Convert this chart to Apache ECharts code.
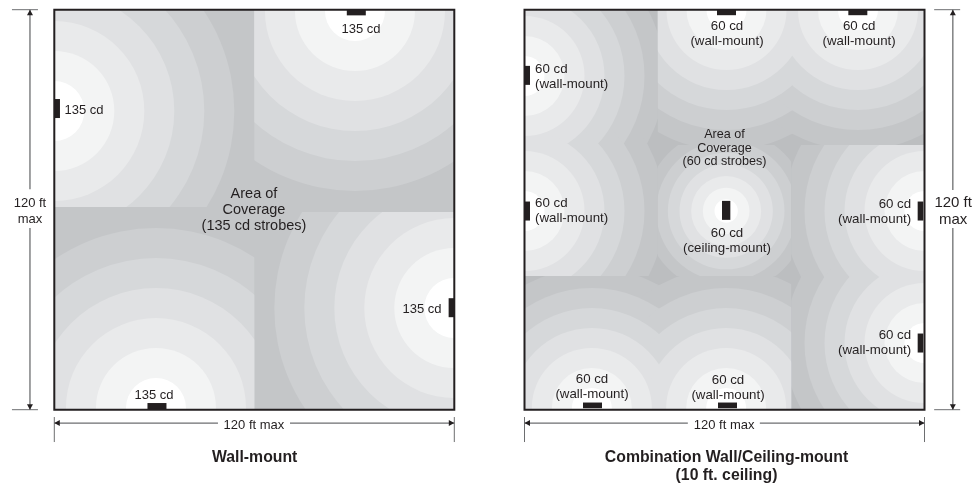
<!DOCTYPE html>
<html>
<head>
<meta charset="utf-8">
<style>html,body{margin:0;padding:0;background:#fff}#c{width:979px;height:487px}</style>
<script src="https://cdn.jsdelivr.net/npm/echarts@6/dist/echarts.min.js"></script>
</head>
<body>
<div id="c"></div>
<script>
// all values in feet, on a 120 x 120 ft room
const shades = ['#ffffff','#f3f4f4','#e9eaeb','#e0e1e3','#d6d8da','#cdcfd1','#c4c6c8'];
const wallRadii135 = [9,18,27,36,45,54];
const wallRadii60 = [6,12,18,24,30,36,42];
const ceilingRadii60 = [3.5,7,10.5,14,17.5,21,24.5];

// zones: [xMin, xMax, yMin, yMax], radii, strobe centres
const zonesLeft = [
  {box:[0,60,60.8,120], radii:wallRadii135, centers:[[0,89.6]]},
  {box:[60,120,59.3,120], radii:wallRadii135, centers:[[90.2,119.6]]},
  {box:[0,60,0,60.8], radii:wallRadii135, centers:[[30.5,0.5]]},
  {box:[60,120,0,59.3], radii:wallRadii135, centers:[[120,30.5]]}
];
const zonesRight = [
  {box:[0,40,40.1,120], radii:wallRadii60, centers:[[0,100.1],[0,59.6]]},
  {box:[40,120,79.4,120], radii:wallRadii60, centers:[[60.6,119.9],[100.05,119.9]]},
  {box:[40,80,40.1,79.4], radii:ceilingRadii60, centers:[[60.5,59.6]]},
  {box:[80,120,0,79.4], radii:wallRadii60, centers:[[120,59.6],[120,20]]},
  {box:[0,80,0,40.1], radii:wallRadii60, centers:[[20.2,0.5],[60.5,0.5]]}
];
// strobes: [x, y, width, height]
const strobesLeft = [[0.85,90.35,1.7,5.7],[90.6,119.15,5.7,1.7],[30.8,1,5.7,2],[119.15,30.6,1.7,5.7]];
const strobesRight = [[0.8,100.3,1.7,5.7],[0.8,59.6,1.7,5.7],[60.6,119.2,5.7,1.7],[100,119.2,5.7,1.7],
  [60.5,59.8,2.5,5.7],[118.8,59.6,1.7,5.7],[118.8,20,1.7,5.7],[20.4,1.3,5.7,1.7],[60.9,1.3,5.7,1.7]];
// labels: [text, x, y, align, fontSize, lineHeight, weight]
const labelsLeft = [
  ['135 cd',8.9,90.2,'center',13,15],['135 cd',92,114.4,'center',13,15],
  ['135 cd',110.3,30.5,'center',13,15],['135 cd',29.9,4.7,'center',13,15],
  ['Area of\nCoverage\n(135 cd strobes)',59.9,60.1,'center',14.5,16],
  ['120 ft\nmax',-7.3,59.9,'center',13,16],['120 ft max',59.9,-4.3,'center',13,15],
  ['Wall-mount',60.1,-14.2,'center',15.8,18,'bold']
];
const labelsRight = [
  ['60 cd\n(wall-mount)',60.75,113.2,'center',13.3,15],['60 cd\n(wall-mount)',100.4,113.2,'center',13.3,15],
  ['60 cd\n(wall-mount)',3.15,100.1,'left',13.3,15],['60 cd\n(wall-mount)',3.15,59.9,'left',13.3,15],
  ['60 cd\n(wall-mount)',116,59.6,'right',13.3,15],['60 cd\n(wall-mount)',116,20.5,'right',13.3,15],
  ['Area of\nCoverage\n(60 cd strobes)',60,78.8,'center',12.6,13.5],
  ['60 cd\n(ceiling-mount)',60.75,51.1,'center',13.3,15],
  ['60 cd\n(wall-mount)',20.25,7.3,'center',13.3,15],['60 cd\n(wall-mount)',61.05,7,'center',13.3,15],
  ['120 ft\nmax',128.6,59.8,'center',15,17],['120 ft max',59.9,-4.3,'center',13,15],
  ['Combination Wall/Ceiling-mount\n(10 ft. ceiling)',60.6,-16.9,'center',15.8,18,'bold']
];
// dimension lines: [x1, y1, x2, y2]; arrow at the first end. ticks have no arrow
const arrowsLeft = [[-7.3,120,-7.3,66.1],[-7.3,0,-7.3,54.5],[0,-4,49.1,-4],[120,-4,70.7,-4]];
const ticksLeft = [[-12.7,120,-4.9,120],[-12.7,0,-4.9,0],[0,-2.2,0,-9.7],[120,-2.2,120,-9.7]];
const arrowsRight = [[128.5,120,128.5,65.9],[128.5,0,128.5,54.5],[0,-4,49,-4],[120,-4,70.6,-4]];
const ticksRight = [[122.9,120,130.7,120],[122.9,0,130.7,0],[0,-2.2,0,-9.7],[120,-2.2,120,-9.7]];

const INK = '#231f20', LINE = '#6d6e70';

function rings(zones){
  const out = [];
  zones.forEach(z=>{
    for(let i=z.radii.length-1;i>=0;i--){
      z.centers.forEach(c=>out.push({c, r:z.radii[i], fill:shades[i], box:z.box}));
    }
  });
  return out;
}
function custom(gridIndex, list, z, draw){
  return {
    type:'custom', coordinateSystem:'cartesian2d', xAxisIndex:gridIndex, yAxisIndex:gridIndex,
    clip:false, silent:true, animation:false, z,
    data:list.map((_,i)=>[i]),
    renderItem:(p,api)=>draw(list[p.dataIndex],api)
  };
}
function panel(g, zones, strobes, labels, arrows, ticks){
  return [
    custom(g, rings(zones), 2, (d,api)=>{
      const c = api.coord(d.c), r = api.size([d.r,0])[0];
      const a = api.coord([d.box[0],d.box[3]]), b = api.coord([d.box[1],d.box[2]]);
      return {type:'circle', shape:{cx:c[0],cy:c[1],r}, style:{fill:d.fill},
        clipPath:{type:'rect', shape:{x:a[0],y:a[1],width:b[0]-a[0],height:b[1]-a[1]}}};
    }),
    custom(g, strobes, 3, (d,api)=>{
      const a = api.coord([d[0]-d[2]/2,d[1]+d[3]/2]), s = api.size([d[2],d[3]]);
      return {type:'rect', shape:{x:a[0],y:a[1],width:s[0],height:s[1]}, style:{fill:INK}};
    }),
    custom(g, [[0,120,120,0]], 4, (d,api)=>{
      const a = api.coord([d[0],d[1]]), b = api.coord([d[2],d[3]]);
      return {type:'rect', shape:{x:a[0],y:a[1],width:b[0]-a[0],height:b[1]-a[1]},
        style:{fill:'none',stroke:INK,lineWidth:2}};
    }),
    custom(g, ticks, 4, (d,api)=>{
      const a = api.coord([d[0],d[1]]), b = api.coord([d[2],d[3]]);
      return {type:'line', shape:{x1:a[0],y1:a[1],x2:b[0],y2:b[1]}, style:{stroke:LINE,lineWidth:1}};
    }),
    custom(g, arrows, 4, (d,api)=>{
      const a = api.coord([d[0],d[1]]), b = api.coord([d[2],d[3]]);
      const L = Math.hypot(b[0]-a[0],b[1]-a[1]), ux=(b[0]-a[0])/L, uy=(b[1]-a[1])/L;
      const h=5.5, w=3;
      return {type:'group', children:[
        {type:'line', shape:{x1:a[0],y1:a[1],x2:b[0],y2:b[1]}, style:{stroke:LINE,lineWidth:1.3}},
        {type:'polygon', shape:{points:[[a[0],a[1]],[a[0]+ux*h-uy*w,a[1]+uy*h+ux*w],[a[0]+ux*h+uy*w,a[1]+uy*h-ux*w]]}, style:{fill:INK}}
      ]};
    }),
    custom(g, labels, 5, (d,api)=>{
      const a = api.coord([d[1],d[2]]);
      return {type:'text', style:{text:d[0], x:a[0], y:a[1]+1, align:d[3], verticalAlign:'middle',
        fill:INK, lineHeight:d[5], fontFamily:'"Liberation Sans", Arial, sans-serif',
        fontSize:d[4], fontWeight:d[6]||'normal'}};
    })
  ];
}
const hidden = i=>({type:'value', gridIndex:i, min:0, max:120, show:false});
const chart = echarts.init(document.getElementById('c'), null, {renderer:'canvas'});
chart.setOption({
  animation:false,
  backgroundColor:'#ffffff',
  grid:[
    {left:54.3, top:9.7, width:400, height:400, show:true, backgroundColor:'#c4c6c8', borderWidth:0},
    {left:524.5, top:9.7, width:400, height:400, show:true, backgroundColor:'#bcbec0', borderWidth:0}
  ],
  xAxis:[hidden(0),hidden(1)],
  yAxis:[hidden(0),hidden(1)],
  series:[
    ...panel(0, zonesLeft, strobesLeft, labelsLeft, arrowsLeft, ticksLeft),
    ...panel(1, zonesRight, strobesRight, labelsRight, arrowsRight, ticksRight)
  ]
});
</script>
</body>
</html>
